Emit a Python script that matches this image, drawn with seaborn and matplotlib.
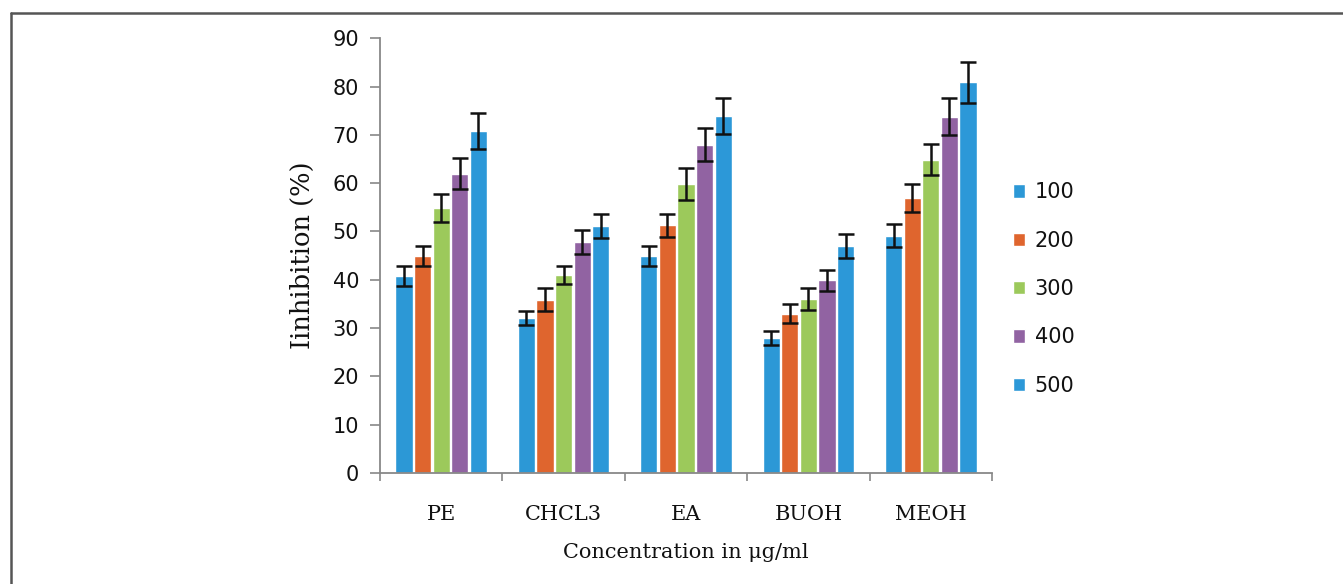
import numpy as np
import pandas as pd
import matplotlib
matplotlib.use("Agg")
import matplotlib.pyplot as plt
from matplotlib.lines import Line2D
import seaborn as sns

# Extract fractions and concentration levels
extracts = ["PE", "CHCL3", "EA", "BUOH", "MEOH"]
levels = ["100", "200", "300", "400", "500"]

# Mean inhibition (%) per extract, one list per concentration
inh_100 = [40.8, 32.1, 44.9, 28.0, 49.1]
inh_200 = [44.9, 35.9, 51.3, 33.0, 57.0]
inh_300 = [54.8, 41.0, 59.8, 36.0, 64.9]
inh_400 = [62.0, 47.8, 68.0, 39.9, 73.8]
inh_500 = [70.8, 51.1, 73.9, 47.0, 80.9]

# Standard deviations
sd_100 = [2.0, 1.5, 2.0, 1.5, 2.4]
sd_200 = [2.0, 2.3, 2.4, 1.9, 2.9]
sd_300 = [2.9, 1.8, 3.3, 2.3, 3.2]
sd_400 = [3.2, 2.5, 3.4, 2.2, 3.9]
sd_500 = [3.8, 2.5, 3.8, 2.5, 4.2]

means = [inh_100, inh_200, inh_300, inh_400, inh_500]
sds = [sd_100, sd_200, sd_300, sd_400, sd_500]

palette = ["#2C98D6", "#DF652E", "#9CC95B", "#9163A2", "#2C98D8"]

df = pd.DataFrame({
    "extract": np.repeat([extracts], len(levels), axis=0).ravel(),
    "conc": np.repeat(levels, len(extracts)),
    "value": np.concatenate(means),
})

sns.set_theme(style="white")
plt.rcParams["font.family"] = ["DejaVu Sans"]

W, H = 1343, 584
fig = plt.figure(figsize=(W / 100, H / 100), dpi=100)
ax = fig.add_axes([380 / W, 1 - 473 / H, (992 - 380) / W, (473 - 38.3) / H])

sns.barplot(data=df, x="extract", y="value", hue="conc", order=extracts,
            hue_order=levels, palette=palette, width=0.76, gap=0.08,
            errorbar=None, saturation=1, ax=ax, legend=True)

# Error bars at the bar centres
for cont, m, s in zip(ax.containers, means, sds):
    xs = [p.get_x() + p.get_width() / 2 for p in cont.patches]
    ax.errorbar(xs, m, yerr=s, fmt="none", ecolor="#111111",
                elinewidth=1.8, capsize=6, capthick=1.8, zorder=5)

ax.set_ylim(0, 90)
ax.set_xlim(-0.5, len(extracts) - 0.5)
ax.set_yticks(np.arange(0, 91, 10))

tick_font = dict(family="DejaVu Sans", size=15, color="#111111")
serif = ["DejaVu Serif"]

ax.set_yticklabels([str(v) for v in range(0, 91, 10)], **tick_font)
ax.set_xticks(range(len(extracts)))
ax.set_xticklabels(extracts, family=serif, size=15, color="#111111")
ax.set_xticks(np.arange(-0.5, len(extracts), 1.0), minor=True)

ax.tick_params(axis="y", which="major", direction="out", length=7, width=1.2,
               color="#888888", pad=8, left=True)
ax.tick_params(axis="x", which="major", length=0, pad=23)
ax.tick_params(axis="x", which="minor", direction="out", length=6, width=1.2,
               color="#888888", bottom=True)

for side in ["top", "right"]:
    ax.spines[side].set_visible(False)
for side in ["left", "bottom"]:
    ax.spines[side].set_color("#888888")
    ax.spines[side].set_linewidth(1.3)

ax.set_xlabel("Concentration in \u03bcg/ml", family=serif, size=15,
              color="#111111", labelpad=14)
ax.set_ylabel("Iinhibition (%)", family=serif, size=18.5,
              color="#111111", labelpad=13)

# Legend on the right
handles, labels = ax.get_legend_handles_labels()
leg = ax.legend(handles, labels, loc="center left",
                bbox_to_anchor=(994 / W, 1 - 289 / H),
                bbox_transform=fig.transFigure, frameon=False,
                handlelength=0.6, handleheight=0.6, handletextpad=0.45,
                labelspacing=1.36, prop=dict(family="DejaVu Sans", size=15))
for t in leg.get_texts():
    t.set_color("#111111")

# Frame lines along the top and left of the figure
fig.add_artist(Line2D([11 / W, 1], [1 - 13 / H, 1 - 13 / H],
                      transform=fig.transFigure, color="#555555", lw=1.8))
fig.add_artist(Line2D([11 / W, 11 / W], [0, 1 - 13 / H],
                      transform=fig.transFigure, color="#555555", lw=1.8))

fig.savefig("out.png", dpi=100, facecolor="white")
